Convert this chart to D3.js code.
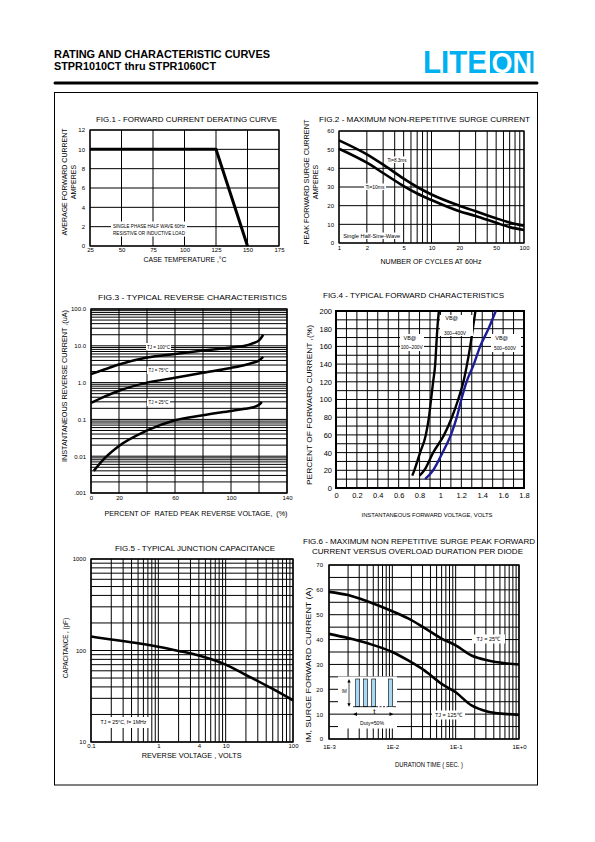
<!DOCTYPE html>
<html><head><meta charset="utf-8">
<script src="https://cdn.jsdelivr.net/npm/d3@7"></script>
<style>body{margin:0;background:#fff}svg{display:block}</style>
</head><body><svg id="c" width="595" height="842"></svg>
<script>
// ---------------- DATA ----------------
// Fig.1 forward current derating
const fig1Temp = [25, 125, 150];
const fig1Current = [10, 10, 0];
const fig1XTicks = [25, 50, 75, 100, 125, 150, 175];
const fig1YTicks = [0, 2, 4, 6, 8, 10, 12];
// Fig.2 max non-repetitive surge current
const fig2Cycles = [1, 2, 3, 5, 7, 10, 20, 30, 50, 70, 100];
const fig2Surge83 = [55, 47.5, 42, 34.5, 30, 26, 20, 17, 13.2, 11, 9.2];
const fig2Surge10 = [50.5, 43, 37.5, 30.5, 26.5, 23, 17, 14.5, 10.8, 8.5, 7];
const fig2XTicks = [1, 2, 5, 10, 20, 50, 100];
const fig2YTicks = [0, 10, 20, 30, 40, 50, 60];
// Fig.3 typical reverse characteristics
const fig3Percent = [0, 10, 20, 40, 60, 80, 100, 110, 115, 120, 123];
const fig3Tj100 = [1.7, 2.3, 3.1, 4.8, 6, 7.4, 9, 10, 11.5, 14, 20];
const fig3Tj75 = [0.28, 0.42, 0.6, 1.0, 1.35, 1.85, 2.5, 3.0, 3.4, 4.0, 5.0];
const fig3Percent25 = [2, 10, 20, 40, 60, 80, 100, 110, 115, 120, 122];
const fig3Tj25 = [0.004, 0.009, 0.019, 0.05, 0.095, 0.13, 0.17, 0.195, 0.21, 0.25, 0.3];
const fig3XTicks = [0, 20, 60, 100, 140];
const fig3XGrid = [0, 20, 40, 60, 80, 100, 120, 140];
const fig3YTicks = [100, 10, 1, 0.1, 0.01, 0.001];
const fig3YLabels = ["100.0", "10.0", "1.0", "0.1", "0.01", ".001"];
// Fig.4 typical forward characteristics
const fig4CurrentA = [14, 20, 40, 60, 80, 100, 120, 140, 160, 180, 200];
const fig4V100_200 = [0.73, 0.75, 0.805, 0.86, 0.89, 0.91, 0.93, 0.95, 0.96, 0.97, 0.985];
const fig4V300_400 = [0.80, 0.845, 0.93, 1.035, 1.11, 1.17, 1.22, 1.255, 1.285, 1.31, 1.335];
const fig4CurrentB = [10, 20, 40, 60, 80, 100, 120, 140, 160, 180, 200];
const fig4V500_600 = [0.853, 0.93, 1.02, 1.10, 1.157, 1.2, 1.25, 1.32, 1.38, 1.46, 1.53];
const fig4XTicks = [0, 0.2, 0.4, 0.6, 0.8, 1, 1.2, 1.4, 1.6, 1.8];
const fig4YTicks = [0, 20, 40, 60, 80, 100, 120, 140, 160, 180, 200];
// Fig.5 typical junction capacitance
const fig5Voltage = [0.1, 0.2, 0.5, 1, 2, 4, 10, 20, 50, 100];
const fig5Cap = [142, 132, 120, 110, 99, 88, 70, 54, 38, 28.5];
const fig5XTicks = [0.1, 1, 4, 10, 100];
const fig5YTicks = [10, 100, 1000];
// Fig.6 surge peak forward current vs overload duration
const fig6Time = [0.001, 0.002, 0.0042, 0.01, 0.0178, 0.032, 0.06, 0.1, 0.178, 0.326, 0.6, 1];
const fig6Tj25 = [59.2, 57.9, 55.2, 51.4, 48.5, 44.7, 40.4, 37.7, 33.6, 31.6, 30.5, 30];
const fig6Tj125 = [42.3, 40.6, 38.4, 35, 31.6, 27.6, 22.2, 18.8, 13.5, 11, 10.1, 9.7];
const fig6XTicks = [0.001, 0.01, 0.1, 1];
const fig6XLabels = ["1E-3", "1E-2", "1E-1", "1E+0"];
const fig6YTicks = [0, 10, 20, 30, 40, 50, 60, 70];

// ---------------- HELPERS ----------------
const FONT = '"Liberation Sans", Arial, Helvetica, sans-serif';
const svg = d3.select('#c');

function txt(g, x, y, s, o = {}) {
  const t = g.append('text').attr('x', x).attr('y', y).text(s)
    .attr('font-size', o.size || 7).attr('text-anchor', o.anchor || 'middle')
    .attr('fill', o.fill || '#000').attr('font-family', FONT)
    .style('white-space', 'pre');
  if (o.weight) t.attr('font-weight', o.weight);
  if (o.len) t.attr('textLength', o.len).attr('lengthAdjust', 'spacingAndGlyphs');
  if (o.rotate) t.attr('transform', `rotate(-90,${x},${y})`);
  return t;
}
function whiteBox(g, x0, y0, x1, y1) {
  g.append('rect').attr('x', x0).attr('y', y0).attr('width', x1 - x0).attr('height', y1 - y0).attr('fill', '#fff');
}
function grid(g, xs, ys, xv, yv, w) {
  const [x0, x1] = xs.range(), [yb, yt] = ys.range();
  g.append('g').selectAll('line').data(xv).join('line')
    .attr('x1', d => xs(d)).attr('x2', d => xs(d)).attr('y1', yb).attr('y2', yt)
    .attr('stroke', '#000').attr('stroke-width', w);
  g.append('g').selectAll('line').data(yv).join('line')
    .attr('y1', d => ys(d)).attr('y2', d => ys(d)).attr('x1', x0).attr('x2', x1)
    .attr('stroke', '#000').attr('stroke-width', w);
}
function border(g, xs, ys, w) {
  const [x0, x1] = xs.range(), [yb, yt] = ys.range();
  g.append('rect').attr('x', x0).attr('y', yt).attr('width', x1 - x0).attr('height', yb - yt)
    .attr('fill', 'none').attr('stroke', '#000').attr('stroke-width', w);
}
function curve(g, xs, ys, xd, yd, color, w, ctype) {
  const pts = xd.map((x, i) => [x, yd[i]]);
  g.append('path').datum(pts)
    .attr('d', d3.line().x(d => xs(d[0])).y(d => ys(d[1])).curve(ctype || d3.curveMonotoneX))
    .attr('fill', 'none').attr('stroke', color).attr('stroke-width', w)
    .attr('stroke-linejoin', 'round');
}
function axes(g, xs, ys, xt, xl, yt, yl, o) {
  const [yb] = ys.range(), [x0] = xs.range();
  const ax = g.append('g').attr('transform', `translate(0,${yb})`)
    .call(d3.axisBottom(xs).tickValues(xt).tickFormat((d, i) => xl[i]).tickSize(0).tickPadding(o.xpad));
  const ay = g.append('g').attr('transform', `translate(${x0},0)`)
    .call(d3.axisLeft(ys).tickValues(yt).tickFormat((d, i) => yl[i]).tickSize(0).tickPadding(o.ypad));
  [ax, ay].forEach(a => {
    a.select('.domain').remove();
    a.selectAll('text').attr('font-size', o.size).attr('font-family', FONT).attr('fill', '#000');
  });
}

// ---------------- PAGE ----------------
txt(svg, 54, 57.5, 'RATING AND CHARACTERISTIC CURVES', {size: 11, anchor: 'start', weight: 'bold', len: 216});
txt(svg, 54, 69.5, 'STPR1010CT thru STPR1060CT', {size: 11, anchor: 'start', weight: 'bold', len: 162});
const BLUE = '#00b0f0';
txt(svg, 423, 73, 'LITE', {size: 30.5, anchor: 'start', weight: 'bold', fill: BLUE, len: 64});
svg.append('rect').attr('x', 490).attr('y', 51).attr('width', 43.5).attr('height', 22).attr('fill', BLUE);
txt(svg, 491.5, 72.5, 'ON', {size: 29, anchor: 'start', weight: 'bold', fill: '#fff', len: 40.5});
svg.append('line').attr('x1', 55).attr('x2', 537).attr('y1', 83).attr('y2', 83)
  .attr('stroke', '#000').attr('stroke-width', 3).attr('stroke-linecap', 'round');
svg.append('rect').attr('x', 54.5).attr('y', 92.5).attr('width', 483).attr('height', 692.5)
  .attr('fill', 'none').attr('stroke', '#000').attr('stroke-width', 1);

// ---------------- FIG 1 ----------------
{
  const g = svg.append('g');
  const xs = d3.scaleLinear().domain([25, 175]).range([90, 279]);
  const ys = d3.scaleLinear().domain([0, 12]).range([246, 130]);
  grid(g, xs, ys, fig1XTicks, fig1YTicks, 1);
  border(g, xs, ys, 1.2);
  axes(g, xs, ys, fig1XTicks, fig1XTicks.map(String), fig1YTicks, fig1YTicks.map(String), {xpad: 2, ypad: 5, size: 6});
  curve(g, xs, ys, fig1Temp, fig1Current, '#000', 3, d3.curveLinear);
  whiteBox(g, 111, 221.5, 187, 236.5);
  txt(g, 149, 228.2, 'SINGLE PHASE HALF WAVE 60Hz', {size: 5.3, len: 72});
  txt(g, 149, 234.5, 'RESISTIVE OR INDUCTIVE LOAD', {size: 5.3, len: 72});
  txt(g, 186.5, 122, 'FIG.1 - FORWARD CURRENT DERATING CURVE', {size: 8, len: 181});
  txt(g, 185, 262, 'CASE TEMPERATURE ,°C', {size: 6.5, len: 83});
  txt(g, 66.6, 182, 'AVERAGE FORWARD CURRENT', {size: 7, rotate: true, len: 107});
  txt(g, 75.6, 182, 'AMPERES', {size: 7, rotate: true});
}

// ---------------- FIG 2 ----------------
{
  const g = svg.append('g');
  const xs = d3.scaleLog().domain([1, 100]).range([339, 524]);
  const ys = d3.scaleLinear().domain([0, 60]).range([243, 131]);
  grid(g, xs, ys, xs.ticks(), fig2YTicks, 1);
  border(g, xs, ys, 1.2);
  axes(g, xs, ys, fig2XTicks, fig2XTicks.map(String), fig2YTicks, fig2YTicks.map(String), {xpad: 3, ypad: 5, size: 6});
  curve(g, xs, ys, fig2Cycles, fig2Surge83, '#000', 2.6);
  curve(g, xs, ys, fig2Cycles, fig2Surge10, '#000', 2.6);
  whiteBox(g, 386, 156.5, 408, 163);
  txt(g, 397, 161.8, 'Ti=8.3ms', {size: 5, len: 19});
  whiteBox(g, 364, 183.5, 386, 190);
  txt(g, 375, 188.8, 'Ti=10ms', {size: 5, len: 19});
  whiteBox(g, 342, 232.5, 401, 239);
  txt(g, 371.7, 237.8, 'Single Half-Sine-Wave', {size: 5, len: 57});
  txt(g, 424.5, 122, 'FIG.2 - MAXIMUM NON-REPETITIVE SURGE CURRENT', {size: 8, len: 211});
  txt(g, 431, 263.5, 'NUMBER OF CYCLES AT 60Hz', {size: 6.5, len: 101});
  txt(g, 308.5, 182, 'PEAK FORWARD SURGE CURRENT', {size: 7, rotate: true, len: 125});
  txt(g, 317.5, 182, 'AMPERES', {size: 7, rotate: true});
}

// ---------------- FIG 3 ----------------
{
  const g = svg.append('g');
  const xs = d3.scaleLinear().domain([0, 140]).range([91, 287]);
  const ys = d3.scaleLog().domain([0.001, 100]).range([493, 309]);
  grid(g, xs, ys, fig3XGrid, ys.ticks(), 1);
  border(g, xs, ys, 1.4);
  axes(g, xs, ys, fig3XTicks, fig3XTicks.map(String), fig3YTicks, fig3YLabels, {xpad: 3, ypad: 5, size: 6});
  curve(g, xs, ys, fig3Percent, fig3Tj100, '#000', 2.5);
  curve(g, xs, ys, fig3Percent, fig3Tj75, '#000', 2.5);
  curve(g, xs, ys, fig3Percent25, fig3Tj25, '#000', 2.5);
  whiteBox(g, 146, 343, 171, 350.5);
  txt(g, 158.5, 348.8, 'TJ = 100°C', {size: 5, len: 23});
  whiteBox(g, 147, 366.5, 170, 374);
  txt(g, 158.5, 372.3, 'TJ = 75°C', {size: 5, len: 20});
  whiteBox(g, 147, 398.5, 170, 406);
  txt(g, 158.5, 404.3, 'TJ = 25°C', {size: 5, len: 20});
  txt(g, 192.5, 300, 'FIG.3 - TYPICAL REVERSE CHARACTERISTICS', {size: 8, len: 189});
  txt(g, 196, 515.5, 'PERCENT OF  RATED PEAK REVERSE VOLTAGE,  (%)', {size: 6.8, len: 183});
  txt(g, 67, 386, 'INSTANTANEOUS REVERSE CURRENT ,(uA)', {size: 7, rotate: true, len: 152});
}

// ---------------- FIG 4 ----------------
{
  const g = svg.append('g');
  const xs = d3.scaleLinear().domain([0, 1.8]).range([336, 524]);
  const ys = d3.scaleLinear().domain([0, 200]).range([488, 311]);
  grid(g, xs, ys, xs.ticks(18), ys.ticks(20), 1);
  border(g, xs, ys, 2);
  axes(g, xs, ys, fig4XTicks, fig4XTicks.map(d => String(d)), fig4YTicks, fig4YTicks.map(String), {xpad: 5, ypad: 4, size: 7.5});
  curve(g, xs, ys, fig4V100_200, fig4CurrentA, '#000', 2.4);
  curve(g, xs, ys, fig4V300_400, fig4CurrentA, '#000', 2.4);
  curve(g, xs, ys, fig4V500_600, fig4CurrentB, '#1c1c96', 2.4);
  whiteBox(g, 400, 334, 424, 351);
  txt(g, 410, 339.8, 'VB@', {size: 5.5});
  txt(g, 411.7, 349, '100~200V', {size: 5.3, len: 22});
  whiteBox(g, 440, 315, 473, 336);
  txt(g, 451.7, 320.3, 'VB@', {size: 5.5});
  txt(g, 455, 334.7, '300~400V', {size: 5.3, len: 22});
  whiteBox(g, 491, 334, 521, 352);
  txt(g, 501.7, 340.3, 'VB@', {size: 5.5});
  txt(g, 505, 350.3, '500~600V', {size: 5.3, len: 22});
  txt(g, 413.5, 298, 'FIG.4 - TYPICAL FORWARD CHARACTERISTICS', {size: 8, len: 181});
  txt(g, 427, 517, 'INSTANTANEOUS FORWARD VOLTAGE, VOLTS', {size: 5.6, len: 131});
  txt(g, 311.5, 405, 'PERCENT OF FORWARD CURRENT ,(%)', {size: 7, rotate: true, len: 160});
}

// ---------------- FIG 5 ----------------
{
  const g = svg.append('g');
  const xs = d3.scaleLog().domain([0.1, 100]).range([91, 293]);
  const ys = d3.scaleLog().domain([10, 1000]).range([742, 559]);
  grid(g, xs, ys, xs.ticks(), ys.ticks(), 1);
  border(g, xs, ys, 1.4);
  axes(g, xs, ys, fig5XTicks, fig5XTicks.map(String), fig5YTicks, fig5YTicks.map(String), {xpad: 2, ypad: 5, size: 6});
  curve(g, xs, ys, fig5Voltage, fig5Cap, '#000', 2.6);
  whiteBox(g, 97, 717, 150, 728);
  txt(g, 123.5, 724, 'TJ = 25°C, f= 1MHz', {size: 5, len: 46});
  txt(g, 195, 551, 'FIG.5 - TYPICAL JUNCTION CAPACITANCE', {size: 8, len: 160});
  txt(g, 191.7, 758, 'REVERSE VOLTAGE , VOLTS', {size: 7, len: 100});
  txt(g, 67.5, 648, 'CAPACITANCE , (pF)', {size: 7, rotate: true, len: 60});
}

// ---------------- FIG 6 ----------------
{
  const g = svg.append('g');
  const xs = d3.scaleLog().domain([0.001, 1]).range([329, 519]);
  const ys = d3.scaleLinear().domain([0, 70]).range([739, 565]);
  grid(g, xs, ys, xs.ticks(), ys.ticks(14), 1);
  border(g, xs, ys, 1.4);
  axes(g, xs, ys, fig6XTicks, fig6XLabels, fig6YTicks, fig6YTicks.map(String), {xpad: 6, ypad: 6, size: 6});
  curve(g, xs, ys, fig6Time, fig6Tj25, '#000', 2.6);
  curve(g, xs, ys, fig6Time, fig6Tj125, '#000', 2.6);
  whiteBox(g, 472, 634.5, 505, 643.5);
  txt(g, 488.5, 641.3, 'TJ = 25℃', {size: 6, len: 24});
  whiteBox(g, 432, 710.5, 465, 719.5);
  txt(g, 448.5, 717.3, 'TJ = 125℃', {size: 6, len: 27});
  // inset pulse diagram
  const ins = g.append('g');
  whiteBox(ins, 338, 676.5, 397, 728.5);
  const y10 = ys(10);
  ins.append('line').attr('x1', 338).attr('x2', 397).attr('y1', y10).attr('y2', y10).attr('stroke', '#000').attr('stroke-width', 1);
  const pulses = [[355.7, 359.7], [363.3, 367.7], [371.7, 375.7], [388.3, 392.7]];
  pulses.forEach(p => {
    ins.append('rect').attr('x', p[0]).attr('y', 679).attr('width', p[1] - p[0]).attr('height', 27.7)
      .attr('fill', '#a9d9f2').attr('stroke', '#000').attr('stroke-width', 0.6);
  });
  ins.append('line').attr('x1', 353).attr('x2', 376).attr('y1', 706.7).attr('y2', 706.7).attr('stroke', '#000').attr('stroke-width', 0.8);
  ins.append('line').attr('x1', 376).attr('x2', 388).attr('y1', 706.7).attr('y2', 706.7).attr('stroke', '#000').attr('stroke-width', 0.8).attr('stroke-dasharray', '2,1.5');
  ins.append('line').attr('x1', 392.7).attr('x2', 396).attr('y1', 706.7).attr('y2', 706.7).attr('stroke', '#000').attr('stroke-width', 0.8);
  // IM vertical arrow
  ins.append('line').attr('x1', 349).attr('x2', 349).attr('y1', 681).attr('y2', 704.5).attr('stroke', '#000').attr('stroke-width', 0.7);
  ins.append('path').attr('d', 'M347.3,682.5 L349,679 L350.7,682.5 Z').attr('fill', '#000');
  ins.append('path').attr('d', 'M347.3,703.2 L349,706.7 L350.7,703.2 Z').attr('fill', '#000');
  txt(ins, 344.3, 692.5, 'IM', {size: 4.5});
  txt(ins, 374.3, 714, 't', {size: 8});
  // horizontal arrow on 10-line
  ins.append('path').attr('d', `M353,${y10} L357,${y10 - 1.8} L357,${y10 + 1.8} Z`).attr('fill', '#000');
  ins.append('path').attr('d', `M393.5,${y10} L389.5,${y10 - 1.8} L389.5,${y10 + 1.8} Z`).attr('fill', '#000');
  txt(ins, 372, 724.5, 'Duty=50%', {size: 4.5, len: 24});
  txt(g, 419, 544, 'FIG.6 - MAXIMUM NON REPETITIVE SURGE PEAK FORWARD', {size: 8, len: 232});
  txt(g, 417.5, 554, 'CURRENT VERSUS OVERLOAD DURATION PER DIODE', {size: 8, len: 211});
  txt(g, 429, 767, 'DURATION TIME ( SEC. )', {size: 6.5, len: 68});
  txt(g, 310.5, 665, 'IM, SURGE FORWARD CURRENT (A)', {size: 7, rotate: true, len: 155});
}
</script>
</body></html>
